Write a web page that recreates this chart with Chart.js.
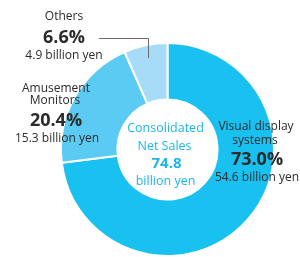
<!DOCTYPE html>
<html>
<head>
<meta charset="utf-8">
<script src="https://cdn.jsdelivr.net/npm/chart.js@4"></script>
<style>
  html, body { margin: 0; padding: 0; background: #fff; }
  #wrap { width: 300px; height: 257px; }
</style>
</head>
<body>
<div id="wrap"><canvas id="chart" width="300" height="257"></canvas></div>
<script>
// data
const segments = ['Visual display systems', 'Amusement Monitors', 'Others']
const shares = [73.0, 20.4, 6.6]
const amounts = [54.6, 15.3, 4.9]
const totalSales = 74.8
const colors = ['#19c1f1', '#5ccbf4', '#a6dcf7']

const FONT = '"Open Sans", "Noto Sans", sans-serif'
const DARK = '#2b2b2b'
const CYAN = '#1db6ea'

// labels around the ring, lines of [text, size, bold, x, y]
let labelLines = [
  [ ['Visual display', 12, false, 256, 127], ['systems', 12, false, 255, 141],
    [shares[0].toFixed(1) + '%', 18, true, 257, 160], [amounts[0].toFixed(1) + ' billion yen', 12, false, 257, 178] ],
  [ ['Amusement', 12, false, 56, 89], ['Monitors', 12, false, 55, 101],
    [shares[1].toFixed(1) + '%', 18, true, 56, 121], [amounts[1].toFixed(1) + ' billion yen', 12, false, 57, 139] ],
  [ ['Others', 12, false, 64, 17],
    [shares[2].toFixed(1) + '%', 18, true, 64, 38], [amounts[2].toFixed(1) + ' billion yen', 12, false, 64, 56] ]
]

let labelPlugin = {
  id: 'labels',
  afterDraw(chart){
    let ctx = chart.ctx
    ctx.save()
    ctx.textAlign = 'center'
    ctx.textBaseline = 'middle'
    ctx.fillStyle = DARK
    labelLines.forEach(group => {
      group.forEach(l => {
        ctx.font = (l[2] ? 'bold ' : '') + l[1] + 'px ' + FONT
        ctx.fillText(l[0], l[3], l[4])
      })
    })

    // leader line to the Others slice
    let arc = chart.getDatasetMeta(0).data[2]
    let mid = (arc.startAngle + arc.endAngle) / 2
    let r = arc.outerRadius - 13
    let px = arc.x + Math.cos(mid) * r
    let py = arc.y + Math.sin(mid) * r
    ctx.strokeStyle = '#6b6b6b'
    ctx.lineWidth = 1
    ctx.beginPath()
    ctx.moveTo(99, 38.5)
    ctx.lineTo(Math.round(px) + 0.5, 38.5)
    ctx.lineTo(Math.round(px) + 0.5, py)
    ctx.stroke()

    // centre text
    let cx = arc.x, cy = arc.y
    ctx.fillStyle = CYAN
    ctx.font = '12.5px ' + FONT
    ctx.fillText('Consolidated', cx - 2, cy - 21)
    ctx.fillText('Net Sales', cx - 3, cy - 3)
    ctx.font = 'bold 15px ' + FONT
    ctx.fillText(totalSales.toFixed(1), cx - 1, cy + 14)
    ctx.font = '12.5px ' + FONT
    ctx.fillText('billion yen', cx - 2, cy + 32)
    ctx.restore()
  }
}

let chart = new Chart(document.getElementById('chart'), {
  type: 'doughnut',
  data: {
    labels: segments,
    datasets: [{
      data: shares,
      backgroundColor: colors,
      borderColor: '#ffffff',
      borderWidth: 2,
      hoverOffset: 0
    }]
  },
  options: {
    responsive: false,
    animation: false,
    cutout: '47%',
    layout: { padding: { left: 60, right: 25, top: 42, bottom: 0 } },
    plugins: {
      legend: { display: false },
      tooltip: { enabled: false }
    }
  },
  plugins: [labelPlugin]
})
</script>
</body>
</html>
